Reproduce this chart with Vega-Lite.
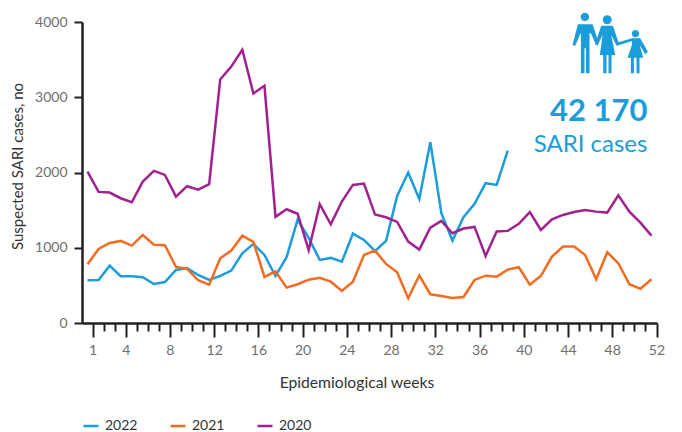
{
"$schema":"https://vega.github.io/schema/vega-lite/v6.json",
"width":575,"height":301,
"autosize":{"type":"none"},
"padding":{"left":82,"top":22,"right":25,"bottom":109},
"background":"#ffffff",
"config":{"view":{"stroke":null},"font":"Lato"},
"datasets":{
"rows":[
{"week":1,"y2022":568,"y2021":781,"y2020":2012},{"week":2,"y2022":572,"y2021":984,"y2020":1742},{"week":3,"y2022":762,"y2021":1064,"y2020":1733},{"week":4,"y2022":621,"y2021":1091,"y2020":1658},{"week":5,"y2022":621,"y2021":1028,"y2020":1605},{"week":6,"y2022":608,"y2021":1170,"y2020":1879},{"week":7,"y2022":519,"y2021":1041,"y2020":2021},{"week":8,"y2022":545,"y2021":1033,"y2020":1968},{"week":9,"y2022":705,"y2021":745,"y2020":1680},{"week":10,"y2022":731,"y2021":722,"y2020":1818},{"week":11,"y2022":638,"y2021":568,"y2020":1773},{"week":12,"y2022":572,"y2021":509,"y2020":1845},{"week":13,"y2022":625,"y2021":860,"y2020":3236},{"week":14,"y2022":696,"y2021":962,"y2020":3409},{"week":15,"y2022":927,"y2021":1161,"y2020":3631},{"week":16,"y2022":1051,"y2021":1077,"y2020":3050},{"week":17,"y2022":904,"y2021":612,"y2020":3152},{"week":18,"y2022":625,"y2021":687,"y2020":1410},{"week":19,"y2022":874,"y2021":470,"y2020":1512},{"week":20,"y2022":1375,"y2021":515,"y2020":1452},{"week":21,"y2022":1130,"y2021":576,"y2020":968},{"week":22,"y2022":838,"y2021":602,"y2020":1578},{"week":23,"y2022":865,"y2021":549,"y2020":1312},{"week":24,"y2022":815,"y2021":426,"y2020":1614},{"week":25,"y2022":1188,"y2021":549,"y2020":1835},{"week":26,"y2022":1104,"y2021":904,"y2020":1853},{"week":27,"y2022":958,"y2021":962,"y2020":1441},{"week":28,"y2022":1091,"y2021":785,"y2020":1405},{"week":29,"y2022":1689,"y2021":674,"y2020":1343},{"week":30,"y2022":1999,"y2021":328,"y2020":1082},{"week":31,"y2022":1649,"y2021":632,"y2020":975},{"week":32,"y2022":2403,"y2021":382,"y2020":1268},{"week":33,"y2022":1459,"y2021":359,"y2020":1357},{"week":34,"y2022":1095,"y2021":332,"y2020":1193},{"week":35,"y2022":1406,"y2021":346,"y2020":1255},{"week":36,"y2022":1583,"y2021":572,"y2020":1277},{"week":37,"y2022":1858,"y2021":629,"y2020":891},{"week":38,"y2022":1835,"y2021":616,"y2020":1215},{"week":39,"y2022":2292,"y2021":709,"y2020":1224},{"week":40,"y2021":741,"y2020":1317},{"week":41,"y2021":509,"y2020":1474},{"week":42,"y2021":627,"y2020":1237},{"week":43,"y2021":882,"y2020":1379},{"week":44,"y2021":1015,"y2020":1436},{"week":45,"y2021":1015,"y2020":1476},{"week":46,"y2021":904,"y2020":1503},{"week":47,"y2021":581,"y2020":1480},{"week":48,"y2021":940,"y2020":1467},{"week":49,"y2021":794,"y2020":1698},{"week":50,"y2021":515,"y2020":1480},{"week":51,"y2021":456,"y2020":1334},{"week":52,"y2021":581,"y2020":1161}
]
},
"data":{"name":"rows"},
"layer":[
{"transform":[{"fold":["y2022","y2021","y2020"],"as":["series","cases"]},{"filter":"isValid(datum.cases)"}],
"mark":{"type":"line","strokeWidth":2.5,"strokeJoin":"miter","interpolate":"linear"},
"encoding":{
"x":{"field":"week","type":"ordinal","scale":{"type":"band","paddingInner":0,"paddingOuter":0},
"axis":{"title":"Epidemiological weeks","titleFontSize":15.7,"titleFontWeight":"normal","titleColor":"#333333","titlePadding":18,"titleX":274.5,
"bandPosition":1,"labelAngle":0,"labelOverlap":false,"labelFlush":false,"labelFontSize":14,"labelColor":"#6d6e71","labelPadding":6,"labelOffset":5.5,
"labelExpr":"(datum.value==1||datum.value%4==0)?datum.label:''",
"tickColor":"#231f20","tickWidth":2,"domainColor":"#231f20","domainWidth":2.5,
"tickSize":{"condition":{"test":"datum.value==1||datum.value%4==0","value":14},"value":8}}},
"y":{"field":"cases","type":"quantitative","scale":{"domain":[0,4000],"nice":false},
"axis":{"title":"Suspected SARI cases, no","titleFontSize":15,"titleFontWeight":"normal","titleColor":"#333333","titlePadding":9,"titleY":144,
"values":[0,500,1000,1500,2000,2500,3000,3500,4000],"format":"d","grid":false,"labelOverlap":false,"labelFontSize":14,"labelColor":"#6d6e71","labelPadding":7,
"tickColor":"#231f20","tickWidth":2,"tickSize":8,"domainColor":"#231f20","domainWidth":2.5}},
"color":{"field":"series","type":"nominal","scale":{"domain":["y2022","y2021","y2020"],"range":["#1b9dd9","#f36c21","#a1228f"]},
"legend":{"title":null,"orient":"none","legendX":0,"legendY":395,"direction":"horizontal","columns":3,"symbolType":"stroke","symbolSize":225,"symbolStrokeWidth":2.5,"labelFontSize":14,"labelColor":"#333333","labelOffset":5,"columnPadding":27,"labelExpr":"slice(datum.label,1)"}}
}},
{"transform":[{"filter":"datum.week==51"}],
"mark":{"type":"text","text":"42 170","align":"right","baseline":"middle","dx":7,"fontSize":31,"fontWeight":"bold","color":"#1b9dd9"},
"encoding":{"x":{"field":"week","type":"ordinal"},"y":{"datum":2800,"type":"quantitative"}}},
{"transform":[{"filter":"datum.week==51"}],
"mark":{"type":"text","text":"SARI cases","align":"right","baseline":"middle","dx":7,"fontSize":24,"color":"#1b9dd9"},
"encoding":{"x":{"field":"week","type":"ordinal"},"y":{"datum":2370,"type":"quantitative"}}},
{"transform":[{"filter":"datum.week==48"}],
"mark":{"type":"point","filled":true,"opacity":1,"size":4,"color":"#1b9dd9","stroke":null,
"shape":"M-32.3,-17.7 L-17.7,-17.7 L-11.7,-0.3 L-14.3,3 L-19.3,-8.7 L-20.7,-8.7 L-20.7,31.3 L-24.3,31.3 L-24.3,6.3 L-25.7,6.3 L-25.7,31.3 L-29.3,31.3 L-29.3,-8.7 L-30,-8 L-35,3.7 L-37.7,3 Z M-29.5,-25 a4.2,4.2 0 1,0 8.4,0 a4.2,4.2 0 1,0 -8.4,0 Z M-9,-16.3 L2.7,-16.3 L8.3,0.3 L21.7,-3.7 L21.7,-1 L6.7,3.7 L6,3 L1,-7 L5,13 L1.3,13 L1.3,31.3 L-1.7,31.3 L-1.7,13 L-3.7,13 L-3.7,31.3 L-7,31.3 L-7,13 L-10.3,13 L-7.7,-7 L-12.7,3.7 L-15,2.3 Z M-7.5,-22.3 a4.5,4.5 0 1,0 9,0 a4.5,4.5 0 1,0 -9,0 Z M21.7,-3.7 L30,-3.7 L37.7,9.7 L35,12.3 L29.5,3 L33,15.7 L29.3,15.7 L29.3,31.3 L26.3,31.3 L26.3,15.7 L23.7,15.7 L23.7,31.3 L20.7,31.3 L20.7,15.7 L17.3,15.7 L21.7,3 Z M21.6,-8.3 a3.7,3.7 0 1,0 7.4,0 a3.7,3.7 0 1,0 -7.4,0 Z"},
"encoding":{"x":{"field":"week","type":"ordinal"},"xOffset":{"value":8.5},"y":{"datum":3735,"type":"quantitative"}}}
]
}
